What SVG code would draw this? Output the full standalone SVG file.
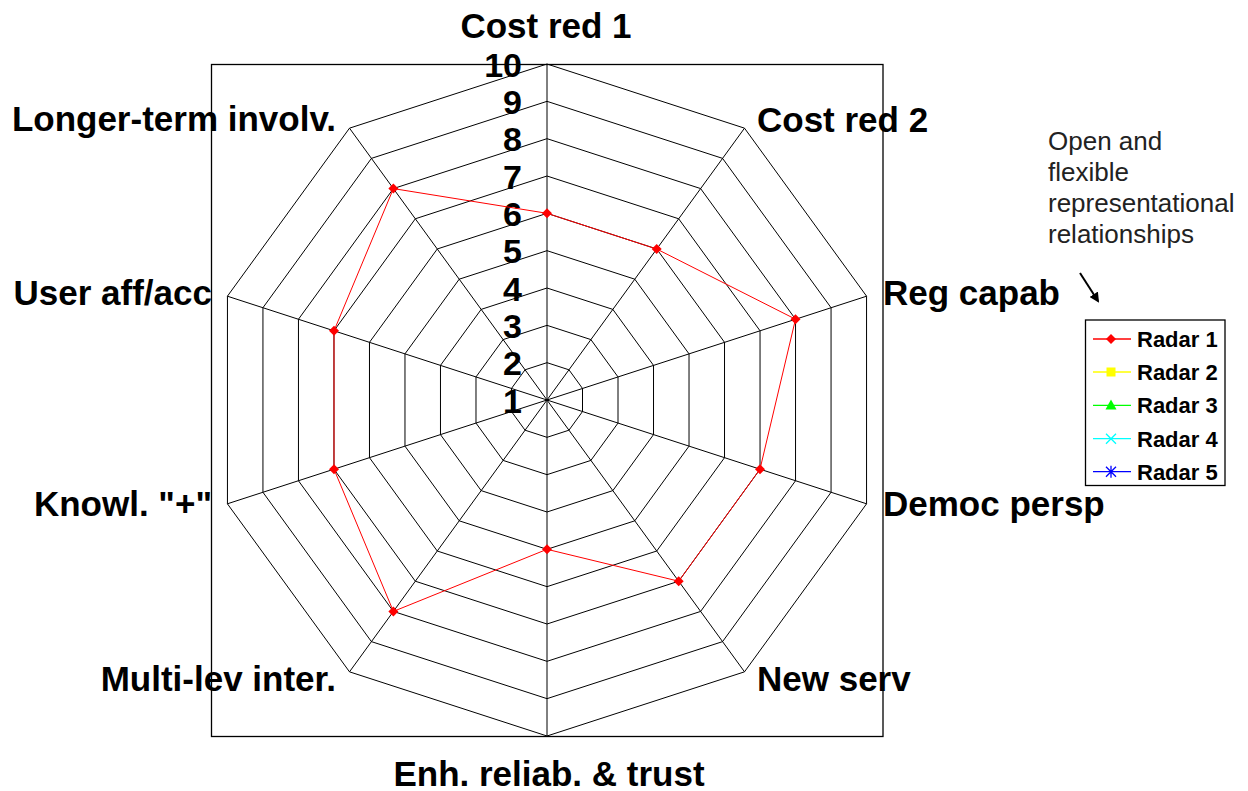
<svg xmlns="http://www.w3.org/2000/svg" xmlns:xlink="http://www.w3.org/1999/xlink" width="1248" height="791" viewBox="0 0 1248 791">
<style>
.lbl{font-family:"Liberation Sans",Arial,sans-serif;font-weight:bold;font-size:35px;fill:#000}
.num{font-family:"Liberation Sans",Arial,sans-serif;font-weight:bold;font-size:34px;fill:#000;text-anchor:end}
.leg{font-family:"Liberation Sans",Arial,sans-serif;font-weight:bold;font-size:22px;fill:#000}
.note{font-family:"Liberation Sans",Arial,sans-serif;font-size:26px;fill:#222}
.ring{fill:none;stroke:#000;stroke-width:1;vector-effect:non-scaling-stroke}
.spoke{stroke:#000;stroke-width:1}
</style>
<defs>
<polygon id="deca" class="ring" points="0,-1 0.587785,-0.809017 0.951057,-0.309017 0.951057,0.309017 0.587785,0.809017 0,1 -0.587785,0.809017 -0.951057,0.309017 -0.951057,-0.309017 -0.587785,-0.809017"/>
<polygon id="dia" points="0,-5 5,0 0,5 -5,0" fill="#f00"/>
<marker id="arr" markerWidth="10" markerHeight="10" refX="8" refY="5" orient="auto" markerUnits="userSpaceOnUse">
<path d="M0,0 L10,5 L0,10 Z" fill="#000"/>
</marker>
</defs>
<rect width="1248" height="791" fill="#fff"/>
<g id="plot-area">
<rect x="211.5" y="64.5" width="671.5" height="672" fill="none" stroke="#000" stroke-width="1.3"/>
</g>
<g id="grid">
<use xlink:href="#deca" transform="translate(547,400) scale(37.333)"/>
<use xlink:href="#deca" transform="translate(547,400) scale(74.667)"/>
<use xlink:href="#deca" transform="translate(547,400) scale(112)"/>
<use xlink:href="#deca" transform="translate(547,400) scale(149.333)"/>
<use xlink:href="#deca" transform="translate(547,400) scale(186.667)"/>
<use xlink:href="#deca" transform="translate(547,400) scale(224)"/>
<use xlink:href="#deca" transform="translate(547,400) scale(261.333)"/>
<use xlink:href="#deca" transform="translate(547,400) scale(298.667)"/>
<use xlink:href="#deca" transform="translate(547,400) scale(336)"/>
</g>
<g id="connectors">
<line class="spoke" x1="547" y1="400" x2="547" y2="64" stroke="#555"/>
<line class="spoke" x1="547" y1="400" x2="744.5" y2="128.2"/>
<line class="spoke" x1="547" y1="400" x2="866.6" y2="296.2"/>
<line class="spoke" x1="547" y1="400" x2="866.6" y2="503.8"/>
<line class="spoke" x1="547" y1="400" x2="744.5" y2="671.8"/>
<line class="spoke" x1="547" y1="400" x2="547" y2="736"/>
<line class="spoke" x1="547" y1="400" x2="349.5" y2="671.8"/>
<line class="spoke" x1="547" y1="400" x2="227.4" y2="503.8"/>
<line class="spoke" x1="547" y1="400" x2="227.4" y2="296.2"/>
<line class="spoke" x1="547" y1="400" x2="349.5" y2="128.2"/>
<line x1="1080" y1="273" x2="1098" y2="301" stroke="#000" stroke-width="2" marker-end="url(#arr)"/>
</g>
<g id="scale">
<text class="num" x="522" y="412.5">1</text>
<text class="num" x="522" y="375.2">2</text>
<text class="num" x="522" y="337.8">3</text>
<text class="num" x="522" y="300.5">4</text>
<text class="num" x="522" y="263.2">5</text>
<text class="num" x="522" y="225.8">6</text>
<text class="num" x="522" y="188.5">7</text>
<text class="num" x="522" y="151.2">8</text>
<text class="num" x="522" y="113.8">9</text>
<text class="num" x="522" y="76.5">10</text>
</g>
<g id="series-radar1">
<polygon points="547,213.3 656.7,249 795.5,319.2 760,469.2 678.7,581.2 547,549.3 393.4,611.4 334,469.2 334,330.8 393.4,188.6" fill="none" stroke="#f00" stroke-width="1"/>
<use xlink:href="#dia" x="547" y="213.3"/>
<use xlink:href="#dia" x="656.7" y="249"/>
<use xlink:href="#dia" x="795.5" y="319.2"/>
<use xlink:href="#dia" x="760" y="469.2"/>
<use xlink:href="#dia" x="678.7" y="581.2"/>
<use xlink:href="#dia" x="547" y="549.3"/>
<use xlink:href="#dia" x="393.4" y="611.4"/>
<use xlink:href="#dia" x="334" y="469.2"/>
<use xlink:href="#dia" x="334" y="330.8"/>
<use xlink:href="#dia" x="393.4" y="188.6"/>
</g>
<g id="axis-cost-red-1"><text class="lbl" x="546" y="38" text-anchor="middle">Cost red 1</text></g>
<g id="axis-cost-red-2"><text class="lbl" x="757" y="132">Cost red 2</text></g>
<g id="axis-reg-capab"><text class="lbl" x="883" y="305">Reg capab</text></g>
<g id="axis-democ-persp"><text class="lbl" x="883" y="516">Democ persp</text></g>
<g id="axis-new-serv"><text class="lbl" x="757" y="691">New serv</text></g>
<g id="axis-enh-reliab"><text class="lbl" x="549" y="786" text-anchor="middle">Enh. reliab. &amp; trust</text></g>
<g id="axis-multi-lev"><text class="lbl" x="336" y="691" text-anchor="end">Multi-lev inter.</text></g>
<g id="axis-knowl"><text class="lbl" x="212" y="516" text-anchor="end">Knowl. "+"</text></g>
<g id="axis-user-aff"><text class="lbl" x="212" y="305" text-anchor="end">User aff/acc</text></g>
<g id="axis-longer-term"><text class="lbl" x="336" y="131" text-anchor="end">Longer-term involv.</text></g>
<g id="note">
<text class="note" x="1048" y="149.5">Open and</text>
<text class="note" x="1048" y="180.5">flexible</text>
<text class="note" x="1048" y="212">representational</text>
<text class="note" x="1048" y="243">relationships</text>
</g>
<g id="legend">
<rect x="1085.5" y="320" width="139.5" height="165.5" fill="#fff" stroke="#000" stroke-width="1.3"/>
<line x1="1093" y1="339" x2="1131" y2="339" stroke="#f00" stroke-width="1.3"/>
<use xlink:href="#dia" x="1111" y="339"/>
<text class="leg" x="1137" y="347">Radar 1</text>
<line x1="1093" y1="372" x2="1131" y2="372" stroke="#ff0" stroke-width="1.3"/>
<rect x="1106.5" y="367.5" width="9" height="9" fill="#ff0"/>
<text class="leg" x="1137" y="380">Radar 2</text>
<line x1="1093" y1="405.3" x2="1131" y2="405.3" stroke="#0f0" stroke-width="1.3"/>
<polygon points="1111,399.5 1116.5,409.5 1105.5,409.5" fill="#0f0"/>
<text class="leg" x="1137" y="413.3">Radar 3</text>
<line x1="1093" y1="438.7" x2="1131" y2="438.7" stroke="#0ff" stroke-width="1.3"/>
<path d="M1106,433.7 L1116,443.7 M1116,433.7 L1106,443.7" stroke="#0ff" stroke-width="1.3"/>
<text class="leg" x="1137" y="446.7">Radar 4</text>
<line x1="1093" y1="471.7" x2="1131" y2="471.7" stroke="#00f" stroke-width="1.3"/>
<path d="M1106,466.7 L1116,476.7 M1116,466.7 L1106,476.7 M1111,465.7 L1111,477.7" stroke="#00f" stroke-width="1.3"/>
<text class="leg" x="1137" y="479.7">Radar 5</text>
</g>
</svg>
